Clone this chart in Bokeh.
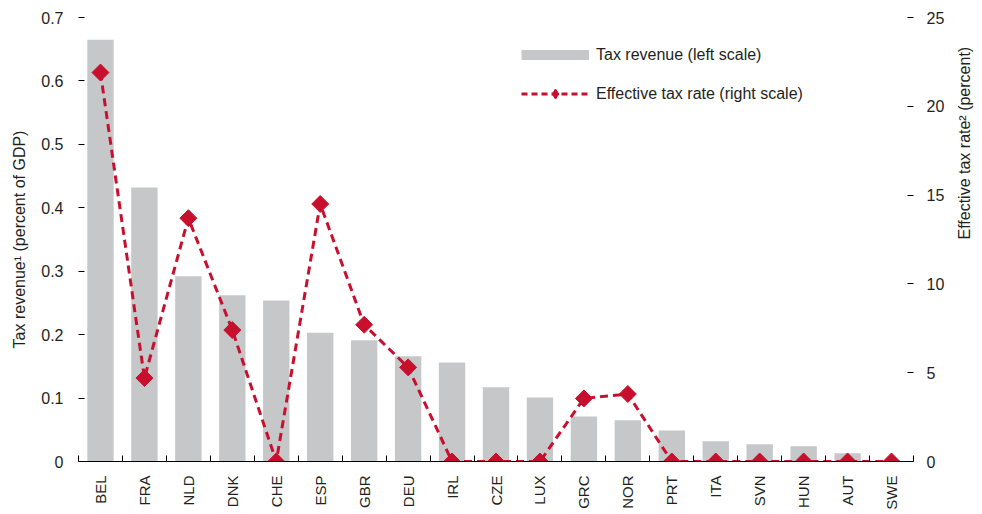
import math
from bokeh.plotting import figure
from bokeh.models import Range1d, LinearAxis, FixedTicker, Legend, LegendItem, ColumnDataSource
from bokeh.embed import file_html
from bokeh.resources import INLINE

countries = ["BEL", "FRA", "NLD", "DNK", "CHE", "ESP", "GBR", "DEU", "IRL", "CZE",
             "LUX", "GRC", "NOR", "PRT", "ITA", "SVN", "HUN", "AUT", "SWE"]
tax_revenue = [0.665, 0.432, 0.292, 0.262, 0.254, 0.203, 0.191, 0.166, 0.156, 0.117,
               0.101, 0.071, 0.065, 0.049, 0.032, 0.027, 0.024, 0.013, 0.0]
effective_rate = [21.9, 4.7, 13.7, 7.4, 0.0, 14.5, 7.7, 5.3, 0.0, 0.0,
                  0.0, 3.55, 3.8, 0.0, 0.0, 0.0, 0.0, 0.0, 0.0]
left_ticks = [0, 0.1, 0.2, 0.3, 0.4, 0.5, 0.6, 0.7]
right_ticks = [0, 5, 10, 15, 20, 25]

FONT = "'Liberation Sans', Arial, sans-serif"
GREY = "#c6c7c9"
RED = "#c8102e"
TXT = "#231f20"

idx = list(range(len(countries)))
src = ColumnDataSource(dict(x=idx, rev=tax_revenue, rate=effective_rate, name=countries))

p = figure(frame_width=835, frame_height=444, output_backend="svg", toolbar_location=None,
           x_range=Range1d(-0.5, len(countries) - 0.5), y_range=Range1d(0, 0.7),
           min_border_left=78, min_border_right=60, min_border_top=17, min_border_bottom=40,
           background_fill_color="white", border_fill_color="white")
p.outline_line_color = None
p.grid.visible = False
p.extra_y_ranges = {"right": Range1d(0, 25), "legend_only": Range1d(-20, -10)}

bars = p.vbar(x="x", top="rev", width=0.6, source=src, fill_color=GREY, line_color=None)
ln = p.line(x="x", y="rate", source=src, y_range_name="right",
            line_color=RED, line_width=3, line_dash="8 5")
pts = p.scatter(x="x", y="rate", source=src, y_range_name="right", marker="square",
                size=12, angle=math.pi / 4, fill_color=RED, line_color=RED)

# legend-only renderers: mapped to a range that puts them outside the (clipped) frame
leg_bar = p.line(x="x", y="rev", source=src, y_range_name="legend_only",
                 line_color=GREY, line_width=10)
leg_line = p.line(x="x", y="rate", source=src, y_range_name="legend_only",
                  line_color=RED, line_width=3, line_dash="6 4")
leg_pt = p.scatter(x="x", y="rate", source=src, y_range_name="legend_only",
                   marker="diamond", fill_color=RED, line_color=RED)

# x axis
xa = p.xaxis[0]
xa.ticker = FixedTicker(ticks=idx, minor_ticks=[i - 0.5 for i in idx] + [len(idx) - 0.5])
xa.major_label_overrides = {i: c for i, c in enumerate(countries)}
xa.major_tick_line_color = None
xa.major_tick_in = 0
xa.major_tick_out = 0
xa.minor_tick_in = 6
xa.minor_tick_out = 0
xa.minor_tick_line_color = "black"
xa.axis_line_color = "black"
xa.major_label_orientation = math.pi / 2
xa.major_label_standoff = 14
xa.major_label_text_font = FONT
xa.major_label_text_font_size = "15px"
xa.major_label_text_color = TXT

# left axis
ya = p.yaxis[0]
ya.ticker = FixedTicker(ticks=left_ticks)
ya.major_label_overrides = {0: "0"}
ya.axis_line_color = None
ya.major_tick_in = 6
ya.major_tick_out = 0
ya.major_tick_line_color = "black"
ya.minor_tick_line_color = None
ya.major_label_standoff = 15
ya.major_label_text_font = FONT
ya.major_label_text_font_size = "16px"
ya.major_label_text_color = TXT
ya.axis_label = "Tax revenue\u00b9 (percent of GDP)"
ya.axis_label_text_font = FONT
ya.axis_label_text_font_size = "16px"
ya.axis_label_text_font_style = "normal"
ya.axis_label_text_color = TXT
ya.axis_label_standoff = 10

ra = LinearAxis(y_range_name="right", ticker=FixedTicker(ticks=right_ticks))
ra.axis_line_color = None
ra.major_tick_in = 6
ra.major_tick_out = 0
ra.major_tick_line_color = "black"
ra.minor_tick_line_color = None
ra.major_label_standoff = 13
ra.major_label_text_font = FONT
ra.major_label_text_font_size = "16px"
ra.major_label_text_color = TXT
ra.axis_label = "Effective tax rate\u00b2 (percent)"
ra.axis_label_text_font = FONT
ra.axis_label_text_font_size = "16px"
ra.axis_label_text_font_style = "normal"
ra.axis_label_text_color = TXT
ra.axis_label_standoff = 17
try:
    ra.axis_label_orientation = math.pi / 2
except Exception:
    pass
p.add_layout(ra, "right")

legend = Legend(items=[
    LegendItem(label="Tax revenue (left scale)", renderers=[leg_bar]),
    LegendItem(label="Effective tax rate (right scale)", renderers=[leg_line, leg_pt]),
], location=(443, 355), orientation="vertical")
legend.glyph_width = 68
legend.glyph_height = 25
legend.label_height = 25
legend.spacing = 14
legend.padding = 0
legend.margin = 0
legend.label_standoff = 7
legend.border_line_color = None
legend.background_fill_alpha = 0
legend.label_text_font = FONT
legend.label_text_font_size = "16px"
legend.label_text_color = TXT
p.add_layout(legend, "center")

open("out.html", "w").write(file_html(p, INLINE))
